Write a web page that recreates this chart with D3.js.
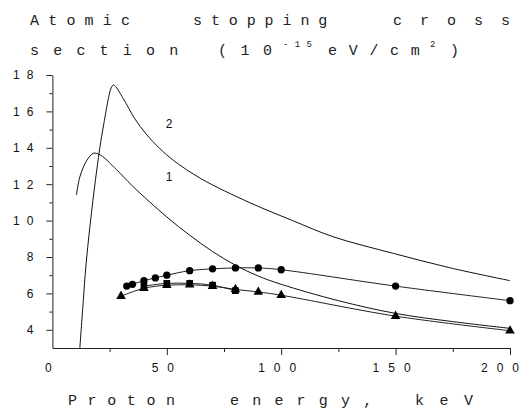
<!DOCTYPE html>
<html>
<head>
<meta charset="utf-8">
<script src="https://cdn.jsdelivr.net/npm/d3@7"></script>
<style>
  html, body { margin: 0; padding: 0; background: #fff; }
  svg { display: block; }
  .ttl { font-family: "Liberation Mono", monospace; font-size: 15px; fill: #222; }
  .tick text { font-family: "Liberation Sans", Arial, sans-serif; font-size: 12px; fill: #111; }
</style>
</head>
<body>
<div id="chart"></div>
<script>
// Atomic stopping cross section vs proton energy
// theory curves 1 & 2 plus three measured series

const theo1Energy = [10.5, 12, 15, 18, 21, 28, 35, 50, 60, 70, 80, 90, 100, 125, 150, 175, 200];
const theo1Sigma  = [11.4, 12.4, 13.3, 13.7, 13.6, 12.8, 11.9, 10.2, 9.2, 8.3, 7.55, 6.95, 6.5, 5.6, 4.9, 4.45, 4.08];

const theo2Energy = [12, 13.5, 15, 19.4, 22.3, 25.9, 26.8, 31, 36, 41, 47, 53, 65, 86, 105, 123, 149, 174, 200];
const theo2Sigma  = [3.0, 5.6, 8.0, 12.8, 15.2, 17.35, 17.45, 16.7, 15.6, 14.75, 13.95, 13.3, 12.3, 11.0, 10.0, 9.1, 8.2, 7.4, 6.7];

const circleEnergy = [32.5, 35, 40, 45, 50, 60, 70, 80, 90, 100, 150, 200];
const circleSigma  = [6.4, 6.5, 6.7, 6.85, 7.0, 7.25, 7.35, 7.4, 7.4, 7.3, 6.4, 5.6];

const squareEnergy = [40, 50, 60, 70, 80];
const squareSigma  = [6.4, 6.55, 6.55, 6.45, 6.15];

const triangleEnergy = [30, 40, 50, 60, 70, 80, 90, 100, 150, 200];
const triangleSigma  = [5.85, 6.28, 6.45, 6.47, 6.4, 6.22, 6.08, 5.9, 4.75, 3.95];

const curveLabels  = ["1", "2"];
const curveLabelE  = [51, 51];
const curveLabelS  = [12.4, 15.3];

const xMajorTicks = [0, 50, 100, 150, 200];
const xMinorTicks = [25, 75, 125, 175];
const yMajorTicks = [4, 6, 8, 10, 12, 14, 16, 18];
const yMinorTicks = [5, 7, 9, 11, 13, 15, 17];

const width = 528, height = 410;

const svg = d3.select("#chart").append("svg")
  .attr("width", width)
  .attr("height", height);

const x = d3.scaleLinear().domain([0, 200]).range([52.4, 510]);
const y = d3.scaleLinear().domain([3, 18]).range([348, 75]);

// axes
function drawAxes() {
  const xAxis = svg.append("g")
    .attr("transform", `translate(0,${y(3)})`)
    .call(d3.axisBottom(x).tickValues(xMajorTicks).tickSize(7).tickSizeOuter(0).tickPadding(8).tickFormat(String));
  xAxis.selectAll(".tick text").attr("letter-spacing", "9px");
  xAxis.selectAll(".tick").filter(d => d === 0).select("line").remove();
  xAxis.selectAll(".tick").filter(d => d === 200).select("text").attr("dx", -6);

  svg.append("g")
    .attr("transform", `translate(0,${y(3)})`)
    .call(d3.axisBottom(x).tickValues(xMinorTicks).tickSize(4).tickFormat(""))
    .select(".domain").remove();

  const yAxis = svg.append("g")
    .attr("transform", `translate(${x(0)},0)`)
    .call(d3.axisLeft(y).tickValues(yMajorTicks).tickSize(6).tickSizeOuter(0).tickPadding(6).tickFormat(String));
  yAxis.selectAll(".tick text").attr("letter-spacing", "7px");

  svg.append("g")
    .attr("transform", `translate(${x(0)},0)`)
    .call(d3.axisLeft(y).tickValues(yMinorTicks).tickSize(3).tickFormat(""))
    .select(".domain").remove();

  svg.selectAll(".domain, .tick line").attr("stroke", "#222");
}

function drawTheory() {
  const line = d3.line()
    .x(d => x(d[0]))
    .y(d => y(d[1]))
    .curve(d3.curveCatmullRom.alpha(0.5));

  [[theo1Energy, theo1Sigma], [theo2Energy, theo2Sigma]].forEach(([es, ss]) => {
    svg.append("path")
      .datum(d3.zip(es, ss))
      .attr("fill", "none")
      .attr("stroke", "#111")
      .attr("stroke-width", 1)
      .attr("d", line);
  });

  svg.selectAll(".curve-label")
    .data(curveLabels)
    .join("text")
    .attr("class", "curve-label")
    .attr("x", (d, i) => x(curveLabelE[i]))
    .attr("y", (d, i) => y(curveLabelS[i]))
    .attr("dy", "0.35em")
    .attr("text-anchor", "middle")
    .attr("font-family", "Liberation Sans, Arial, sans-serif")
    .attr("font-size", 12)
    .attr("fill", "#111")
    .text(d => d);
}

function drawSeries(es, ss, symbol, size) {
  const pts = d3.zip(es, ss);
  svg.append("path")
    .datum(pts)
    .attr("fill", "none")
    .attr("stroke", "#222")
    .attr("stroke-width", 1)
    .attr("d", d3.line().x(d => x(d[0])).y(d => y(d[1])).curve(d3.curveCatmullRom.alpha(0.5)));
  svg.append("g")
    .selectAll("path")
    .data(pts)
    .join("path")
    .attr("transform", d => `translate(${x(d[0])},${y(d[1])})`)
    .attr("d", d3.symbol().type(symbol).size(size))
    .attr("fill", "#000");
}

// word: [text, left x, letter-spacing]
function drawWords(words, baseY, size) {
  words.forEach(([t, x0, ls]) => {
    svg.append("text").attr("class", "ttl")
      .attr("x", x0).attr("y", baseY)
      .attr("letter-spacing", ls + "px")
      .style("font-size", size + "px")
      .text(t);
  });
}

function drawTitles() {
  drawWords([["Atomic", 30, 9.2], ["stopping", 193, 8.9], ["cross", 393, 18]], 25, 15);
  drawWords([["section", 30, 14.2], ["(10", 218, 13.5], ["eV/cm", 328, 11.7], [")", 450, 0]], 55, 15);
  drawWords([["-15", 283, 6.4], ["2", 430, 0]], 47, 9);
  drawWords([["Proton", 68, 10.6], ["energy,", 230, 13.2], ["keV", 415, 15.5]], 405, 15);
}

drawAxes();
drawTheory();
drawSeries(triangleEnergy, triangleSigma, d3.symbolTriangle, 40);
drawSeries(squareEnergy, squareSigma, d3.symbolSquare, 45);
drawSeries(circleEnergy, circleSigma, d3.symbolCircle, 42);
drawTitles();
</script>
</body>
</html>
